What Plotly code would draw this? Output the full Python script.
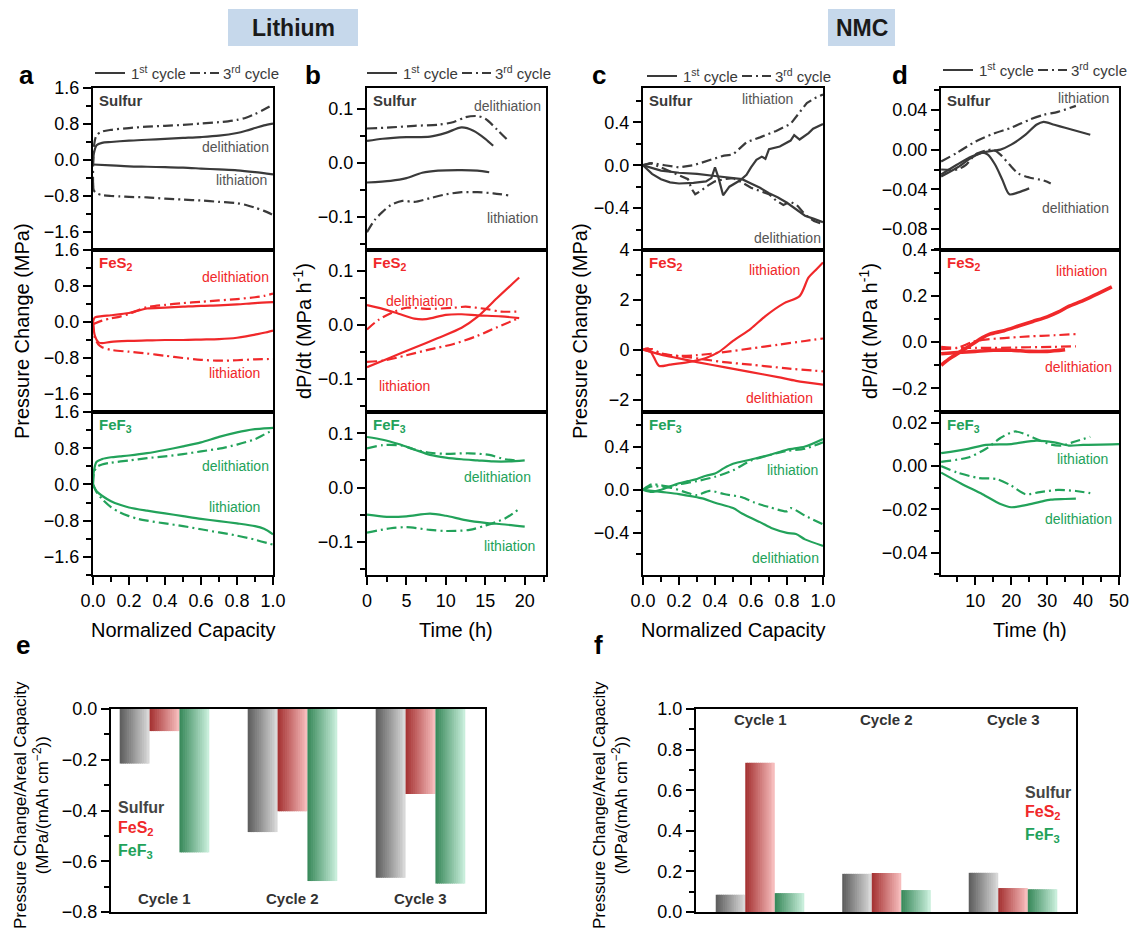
import plotly.graph_objects as go

# ---------------- DATA ----------------
# Panel a (Lithium, pressure change vs normalized capacity)
a_sul_c1_del_x = [0, 0.005, 0.02, 0.05, 0.1, 0.2, 0.3, 0.4, 0.5, 0.6, 0.7, 0.8, 0.85, 0.9, 0.95, 1.0]
a_sul_c1_del_y = [-0.08, 0.15, 0.33, 0.38, 0.40, 0.43, 0.45, 0.47, 0.49, 0.51, 0.54, 0.60, 0.65, 0.71, 0.77, 0.81]
a_sul_c3_del_x = [0, 0.005, 0.02, 0.05, 0.1, 0.2, 0.3, 0.4, 0.5, 0.6, 0.7, 0.75, 0.8, 0.85, 0.9, 0.95, 1.0]
a_sul_c3_del_y = [-0.6, 0.3, 0.55, 0.63, 0.67, 0.71, 0.74, 0.76, 0.78, 0.81, 0.84, 0.86, 0.89, 0.94, 1.02, 1.12, 1.23]
a_sul_c1_lit_x = [0, 0.1, 0.2, 0.3, 0.4, 0.5, 0.6, 0.7, 0.8, 0.9, 1.0]
a_sul_c1_lit_y = [-0.10, -0.12, -0.14, -0.15, -0.16, -0.17, -0.19, -0.21, -0.23, -0.27, -0.32]
a_sul_c3_lit_x = [0, 0.005, 0.02, 0.05, 0.1, 0.15, 0.2, 0.3, 0.4, 0.5, 0.6, 0.7, 0.8, 0.85, 0.9, 0.95, 1.0]
a_sul_c3_lit_y = [-0.5, -0.68, -0.74, -0.78, -0.8, -0.81, -0.82, -0.83, -0.86, -0.88, -0.9, -0.93, -0.96, -1.0, -1.06, -1.13, -1.22]

a_fes_c1_del_x = [0, 0.01, 0.05, 0.1, 0.2, 0.25, 0.3, 0.4, 0.5, 0.6, 0.7, 0.8, 0.9, 1.0]
a_fes_c1_del_y = [0.0, 0.10, 0.13, 0.15, 0.20, 0.25, 0.30, 0.32, 0.34, 0.36, 0.37, 0.39, 0.42, 0.44]
a_fes_c3_del_x = [0, 0.05, 0.1, 0.15, 0.2, 0.25, 0.3, 0.4, 0.5, 0.6, 0.7, 0.8, 0.9, 0.95, 1.0]
a_fes_c3_del_y = [-0.05, 0.03, 0.08, 0.12, 0.18, 0.26, 0.33, 0.38, 0.42, 0.45, 0.48, 0.51, 0.55, 0.58, 0.63]
a_fes_c1_lit_x = [0, 0.01, 0.03, 0.05, 0.1, 0.2, 0.3, 0.4, 0.5, 0.6, 0.7, 0.8, 0.85, 0.9, 0.95, 1.0]
a_fes_c1_lit_y = [0.0, -0.3, -0.45, -0.47, -0.44, -0.42, -0.41, -0.40, -0.40, -0.39, -0.38, -0.35, -0.32, -0.28, -0.24, -0.19]
a_fes_c3_lit_x = [0, 0.01, 0.03, 0.05, 0.1, 0.2, 0.3, 0.4, 0.5, 0.6, 0.7, 0.8, 0.9, 1.0]
a_fes_c3_lit_y = [0.0, -0.35, -0.5, -0.56, -0.62, -0.66, -0.7, -0.75, -0.8, -0.84, -0.86, -0.85, -0.83, -0.82]

a_fef_c1_del_x = [0, 0.005, 0.02, 0.05, 0.1, 0.15, 0.2, 0.3, 0.4, 0.5, 0.6, 0.7, 0.8, 0.85, 0.9, 0.95, 1.0]
a_fef_c1_del_y = [0.0, 0.3, 0.5, 0.56, 0.6, 0.62, 0.64, 0.69, 0.76, 0.84, 0.93, 1.05, 1.15, 1.19, 1.22, 1.24, 1.25]
a_fef_c3_del_x = [0, 0.005, 0.02, 0.05, 0.1, 0.2, 0.3, 0.4, 0.5, 0.6, 0.7, 0.8, 0.9, 0.95, 1.0]
a_fef_c3_del_y = [0.0, 0.25, 0.38, 0.44, 0.48, 0.53, 0.58, 0.62, 0.67, 0.73, 0.79, 0.88, 1.0, 1.1, 1.2]
a_fef_c1_lit_x = [0, 0.02, 0.05, 0.1, 0.15, 0.2, 0.3, 0.4, 0.5, 0.6, 0.7, 0.8, 0.9, 0.95, 1.0]
a_fef_c1_lit_y = [0.0, -0.15, -0.25, -0.37, -0.45, -0.51, -0.58, -0.64, -0.7, -0.76, -0.81, -0.86, -0.92, -0.98, -1.1]
a_fef_c3_lit_x = [0, 0.02, 0.05, 0.1, 0.15, 0.2, 0.25, 0.3, 0.4, 0.5, 0.6, 0.7, 0.8, 0.9, 1.0]
a_fef_c3_lit_y = [0.0, -0.17, -0.32, -0.5, -0.62, -0.7, -0.76, -0.8, -0.86, -0.92, -0.99, -1.06, -1.13, -1.22, -1.33]

# Panel b (Lithium, dP/dt vs time)
b_sul_c1_del_x = [0, 2, 5, 8, 10, 12, 13.5, 15, 16]
b_sul_c1_del_y = [0.041, 0.045, 0.048, 0.049, 0.056, 0.066, 0.06, 0.045, 0.032]
b_sul_c3_del_x = [0, 3, 6, 9, 11, 12.5, 14, 15, 16.5, 18]
b_sul_c3_del_y = [0.064, 0.066, 0.069, 0.071, 0.076, 0.085, 0.087, 0.082, 0.062, 0.04]
b_sul_c1_lit_x = [0, 3, 5, 7, 9, 12, 14, 15.5]
b_sul_c1_lit_y = [-0.036, -0.033, -0.028, -0.018, -0.014, -0.013, -0.014, -0.017]
b_sul_c3_lit_x = [0, 1, 2, 3, 4.5, 6, 8, 10, 12, 14, 16, 18]
b_sul_c3_lit_y = [-0.128, -0.105, -0.09, -0.078, -0.07, -0.072, -0.065, -0.058, -0.054, -0.054, -0.056, -0.06]

b_fes_c1_lit_x = [0, 3, 6, 9, 12, 14, 16.5, 19.3]
b_fes_c1_lit_y = [-0.078, -0.06, -0.042, -0.024, -0.005, 0.015, 0.05, 0.088]
b_fes_c3_lit_x = [0, 2, 5, 8, 11, 14, 16.5, 19.3]
b_fes_c3_lit_y = [-0.068, -0.066, -0.056, -0.045, -0.035, -0.02, -0.004, 0.013]
b_fes_c1_del_x = [0, 2, 4, 6, 7.5, 10, 12, 14, 17, 19.3]
b_fes_c1_del_y = [0.037, 0.03, 0.021, 0.012, 0.011, 0.019, 0.02, 0.018, 0.016, 0.013]
b_fes_c3_del_x = [0, 1.5, 3.5, 5, 8, 11, 12.5, 15, 17, 19.3]
b_fes_c3_del_y = [-0.008, 0.01, 0.025, 0.032, 0.03, 0.032, 0.034, 0.03, 0.025, 0.025]

b_fef_c1_del_x = [0, 2, 4, 6, 8, 10, 12, 14, 16, 18, 20]
b_fef_c1_del_y = [0.093, 0.088, 0.08, 0.07, 0.06, 0.055, 0.052, 0.05, 0.048, 0.048, 0.05]
b_fef_c3_del_x = [0, 2, 4.5, 6, 8, 10, 13, 15.5, 17.5, 19]
b_fef_c3_del_y = [0.072, 0.078, 0.077, 0.07, 0.064, 0.062, 0.063, 0.06, 0.052, 0.05]
b_fef_c1_lit_x = [0, 2.5, 5, 8, 10, 12.5, 15, 17.5, 20]
b_fef_c1_lit_y = [-0.05, -0.054, -0.053, -0.048, -0.052, -0.06, -0.065, -0.068, -0.072]
b_fef_c3_lit_x = [0, 3, 5, 8, 10, 13, 15, 17.5, 19.5]
b_fef_c3_lit_y = [-0.083, -0.075, -0.073, -0.078, -0.08, -0.078, -0.07, -0.057, -0.037]

# Panel c (NMC, pressure change vs normalized capacity)
c_sul_c1_lit_x = [0, 0.05, 0.1, 0.15, 0.2, 0.28, 0.35, 0.38, 0.40, 0.42, 0.445, 0.48, 0.54, 0.575, 0.6, 0.63, 0.66, 0.68, 0.70, 0.76, 0.82, 0.84, 0.87, 0.92, 0.945, 1.0]
c_sul_c1_lit_y = [0, -0.08, -0.13, -0.16, -0.17, -0.165, -0.15, -0.12, -0.02, -0.12, -0.28, -0.2, -0.14, -0.09, -0.02, 0.05, 0.08, 0.06, 0.15, 0.175, 0.23, 0.28, 0.24, 0.3, 0.34, 0.385]
c_sul_c3_lit_x = [0, 0.05, 0.12, 0.2, 0.28, 0.38, 0.45, 0.5, 0.575, 0.65, 0.74, 0.82, 0.87, 0.91, 0.96, 1.0]
c_sul_c3_lit_y = [0, 0.02, 0.0, -0.02, 0.0, 0.05, 0.09, 0.1, 0.215, 0.26, 0.32, 0.385, 0.49, 0.58, 0.63, 0.66]
c_sul_c1_del_x = [0, 0.1, 0.2, 0.3, 0.4, 0.5, 0.55, 0.6, 0.65, 0.7, 0.75, 0.8, 0.85, 0.9, 0.95, 1.0]
c_sul_c1_del_y = [0, -0.05, -0.07, -0.08, -0.1, -0.12, -0.13, -0.17, -0.21, -0.26, -0.3, -0.35, -0.41, -0.47, -0.5, -0.53]
c_sul_c3_del_x = [0, 0.04, 0.1, 0.2, 0.25, 0.27, 0.29, 0.32, 0.36, 0.4, 0.45, 0.5, 0.55, 0.6, 0.65, 0.7, 0.74, 0.78, 0.82, 0.86, 0.9, 0.95, 1.0]
c_sul_c3_del_y = [0, 0.02, -0.02, -0.09, -0.13, -0.22, -0.27, -0.24, -0.19, -0.15, -0.13, -0.12, -0.16, -0.21, -0.24, -0.27, -0.33, -0.37, -0.34, -0.38, -0.46, -0.52, -0.55]

c_fes_c1_lit_x = [0, 0.03, 0.06, 0.09, 0.15, 0.25, 0.35, 0.42, 0.5, 0.6, 0.68, 0.78, 0.87, 0.92, 0.96, 1.0]
c_fes_c1_lit_y = [0, 0.05, -0.3, -0.65, -0.6, -0.5, -0.33, -0.1, 0.35, 0.85, 1.35, 1.85, 2.15, 2.9, 3.2, 3.5]
c_fes_c3_lit_x = [0, 0.05, 0.1, 0.2, 0.3, 0.45, 0.6, 0.75, 0.9, 1.0]
c_fes_c3_lit_y = [0, 0.02, -0.15, -0.25, -0.22, -0.1, 0.05, 0.2, 0.35, 0.45]
c_fes_c1_del_x = [0, 0.05, 0.1, 0.2, 0.3, 0.45, 0.6, 0.75, 0.85, 1.0]
c_fes_c1_del_y = [0, -0.1, -0.2, -0.35, -0.5, -0.7, -0.9, -1.1, -1.25, -1.4]
c_fes_c3_del_x = [0, 0.05, 0.12, 0.25, 0.35, 0.45, 0.6, 0.8, 1.0]
c_fes_c3_del_y = [0, -0.1, -0.2, -0.3, -0.4, -0.5, -0.6, -0.75, -0.87]

c_fef_c1_lit_x = [0, 0.05, 0.1, 0.15, 0.2, 0.25, 0.3, 0.35, 0.4, 0.45, 0.5, 0.6, 0.7, 0.8, 0.9, 1.0]
c_fef_c1_lit_y = [0, -0.02, 0.0, 0.03, 0.06, 0.08, 0.1, 0.13, 0.15, 0.2, 0.24, 0.28, 0.32, 0.37, 0.4, 0.47]
c_fef_c3_lit_x = [0, 0.05, 0.1, 0.15, 0.2, 0.3, 0.4, 0.5, 0.6, 0.7, 0.8, 0.9, 1.0]
c_fef_c3_lit_y = [0, 0.05, 0.04, 0.03, 0.05, 0.08, 0.12, 0.18, 0.27, 0.32, 0.36, 0.38, 0.44]
c_fef_c1_del_x = [0, 0.1, 0.2, 0.3, 0.33, 0.4, 0.5, 0.55, 0.65, 0.72, 0.8, 0.85, 0.9, 1.0]
c_fef_c1_del_y = [0, -0.02, -0.04, -0.07, -0.08, -0.12, -0.17, -0.22, -0.3, -0.36, -0.4, -0.41, -0.46, -0.52]
c_fef_c3_del_x = [0, 0.05, 0.15, 0.25, 0.3, 0.37, 0.45, 0.55, 0.62, 0.7, 0.8, 0.82, 0.9, 1.0]
c_fef_c3_del_y = [0, 0.03, 0.02, -0.03, -0.05, -0.01, -0.04, -0.07, -0.12, -0.16, -0.2, -0.17, -0.24, -0.32]

# Panel d (NMC, dP/dt vs time)
d_sul_c1_lit_x = [0.5, 5, 9, 12, 15, 17, 20, 24, 27, 29, 32, 35, 39, 42]
d_sul_c1_lit_y = [-0.025, -0.015, -0.007, -0.003, -0.001, 0.0, 0.005, 0.015, 0.025, 0.028, 0.025, 0.022, 0.018, 0.015]
d_sul_c3_lit_x = [0.5, 5, 10, 15, 20, 25, 29, 33, 38]
d_sul_c3_lit_y = [-0.012, -0.003, 0.008, 0.016, 0.022, 0.03, 0.035, 0.038, 0.044]
d_sul_c1_del_x = [0.5, 5, 9, 12, 13.5, 15.5, 17.5, 19.5, 22, 25]
d_sul_c1_del_y = [-0.027, -0.018, -0.008, -0.003, -0.005, -0.015, -0.03, -0.045, -0.043, -0.039]
d_sul_c3_del_x = [0.5, 5, 7.5, 10, 13, 15, 17, 19.5, 22, 25, 29, 31]
d_sul_c3_del_y = [-0.02, -0.02, -0.015, -0.005, -0.001, 0.0, -0.005, -0.015, -0.024, -0.028, -0.031, -0.034]

d_fes_c1_lit_x = [0.5, 3, 6, 9, 12, 14, 18, 22, 26, 30, 33, 36, 40, 44, 48]
d_fes_c1_lit_y = [-0.1, -0.07, -0.04, -0.01, 0.02, 0.035, 0.05, 0.07, 0.09, 0.11, 0.13, 0.155, 0.18, 0.21, 0.24]
d_fes_c3_lit_x = [0.5, 5, 9, 12, 18, 25, 32, 38]
d_fes_c3_lit_y = [-0.03, -0.025, 0.0, 0.01, 0.018, 0.025, 0.03, 0.035]
d_fes_c1_del_x = [0.5, 5, 10, 15, 20, 25, 30, 35]
d_fes_c1_del_y = [-0.05, -0.045, -0.04, -0.035, -0.035, -0.04, -0.04, -0.033]
d_fes_c3_del_x = [0.5, 5, 10, 15, 25, 32, 38]
d_fes_c3_del_y = [-0.02, -0.025, -0.025, -0.025, -0.022, -0.02, -0.018]

d_fef_c1_lit_x = [0.5, 8, 13, 20, 27, 32, 36, 40, 50]
d_fef_c1_lit_y = [0.006, 0.008, 0.0098, 0.0102, 0.0118, 0.011, 0.0095, 0.0098, 0.0102]
d_fef_c3_lit_x = [0.5, 8, 13, 17, 21, 25, 27, 31, 34, 38, 42]
d_fef_c3_lit_y = [0.002, 0.004, 0.008, 0.013, 0.016, 0.014, 0.0125, 0.01, 0.0095, 0.0115, 0.0135]
d_fef_c1_del_x = [0.5, 6, 12, 17, 20, 24, 28, 31, 35, 38]
d_fef_c1_del_y = [-0.003, -0.008, -0.013, -0.0175, -0.019, -0.018, -0.0165, -0.0155, -0.0152, -0.015]
d_fef_c3_del_x = [0.5, 5, 11, 16, 20, 24, 28, 33, 38, 42]
d_fef_c3_del_y = [0.0, -0.003, -0.0055, -0.006, -0.009, -0.013, -0.012, -0.011, -0.0115, -0.0125]

# Panels e and f (bars)
cycles = ["Cycle 1", "Cycle 2", "Cycle 3"]
materials = ["Sulfur", "FeS<sub>2</sub>", "FeF<sub>3</sub>"]
e_sulfur = [-0.215, -0.485, -0.665]
e_fes2 = [-0.087, -0.403, -0.335]
e_fef3 = [-0.565, -0.678, -0.688]
f_sulfur = [0.085, 0.188, 0.193]
f_fes2 = [0.735, 0.192, 0.118]
f_fef3 = [0.093, 0.108, 0.112]

# ---------------- STYLE / LAYOUT ----------------
W, H = 1131, 937
FONT = "Liberation Sans, Arial, sans-serif"
GRAY = "#3a3a3a"
LGRAY = "#555555"
RED = "#f0282a"
GREEN = "#22a25a"
DASHDOT = "10px,4px,2px,4px"


def dx(a, b):
    return [a / W, b / W]


def dy(top, bot):
    return [1 - bot / H, 1 - top / H]


def px(x):
    return x / W


def py(y):
    return 1 - y / H


fig = go.Figure()
layout = dict(
    width=W, height=H, margin=dict(l=0, r=0, t=0, b=0, autoexpand=False),
    paper_bgcolor="white", plot_bgcolor="white",
    showlegend=False, hovermode=False,
    font=dict(family=FONT, color="black"),
)
annotations = []
shapes = []

cols = {"a": (93, 273), "b": (367, 546), "c": (643, 823), "d": (941, 1119)}
rows = [(88, 250), (250, 412), (412, 575)]
xspec = {
    "a": dict(range=[0, 1], dtick=0.2, minor=0.1, fmt=".1f"),
    "b": dict(range=[0, 22.7], dtick=5, minor=2.5, fmt="d"),
    "c": dict(range=[0, 1], dtick=0.2, minor=0.1, fmt=".1f"),
    "d": dict(range=[0.46, 50], dtick=10, minor=5, fmt="d"),
}
yspec = {
    "a": [dict(range=[-2.0, 1.6], dtick=0.8, minor=0.4, fmt=".1f")] * 3,
    "b": [dict(range=[-0.161, 0.139], dtick=0.1, minor=0.05, fmt=".1f")] * 3,
    "c": [dict(range=[-0.79, 0.72], dtick=0.4, minor=0.2, fmt=".1f"),
          dict(range=[-2.5, 4.0], dtick=2, minor=1, fmt="d"),
          dict(range=[-0.79, 0.72], dtick=0.4, minor=0.2, fmt=".1f")],
    "d": [dict(range=[-0.101, 0.062], dtick=0.04, minor=0.02, fmt=".2f"),
          dict(range=[-0.303, 0.4], dtick=0.2, minor=0.1, fmt=".1f"),
          dict(range=[-0.0503, 0.025], dtick=0.02, minor=0.01, fmt=".2f")],
}

curves = {
    "a": [
        [(a_sul_c1_del_x, a_sul_c1_del_y, 0), (a_sul_c3_del_x, a_sul_c3_del_y, 1),
         (a_sul_c1_lit_x, a_sul_c1_lit_y, 0), (a_sul_c3_lit_x, a_sul_c3_lit_y, 1)],
        [(a_fes_c1_del_x, a_fes_c1_del_y, 0), (a_fes_c3_del_x, a_fes_c3_del_y, 1),
         (a_fes_c1_lit_x, a_fes_c1_lit_y, 0), (a_fes_c3_lit_x, a_fes_c3_lit_y, 1)],
        [(a_fef_c1_del_x, a_fef_c1_del_y, 0), (a_fef_c3_del_x, a_fef_c3_del_y, 1),
         (a_fef_c1_lit_x, a_fef_c1_lit_y, 0), (a_fef_c3_lit_x, a_fef_c3_lit_y, 1)],
    ],
    "b": [
        [(b_sul_c1_del_x, b_sul_c1_del_y, 0), (b_sul_c3_del_x, b_sul_c3_del_y, 1),
         (b_sul_c1_lit_x, b_sul_c1_lit_y, 0), (b_sul_c3_lit_x, b_sul_c3_lit_y, 1)],
        [(b_fes_c1_del_x, b_fes_c1_del_y, 0), (b_fes_c3_del_x, b_fes_c3_del_y, 1),
         (b_fes_c1_lit_x, b_fes_c1_lit_y, 0), (b_fes_c3_lit_x, b_fes_c3_lit_y, 1)],
        [(b_fef_c1_del_x, b_fef_c1_del_y, 0), (b_fef_c3_del_x, b_fef_c3_del_y, 1),
         (b_fef_c1_lit_x, b_fef_c1_lit_y, 0), (b_fef_c3_lit_x, b_fef_c3_lit_y, 1)],
    ],
    "c": [
        [(c_sul_c1_lit_x, c_sul_c1_lit_y, 0), (c_sul_c3_lit_x, c_sul_c3_lit_y, 1),
         (c_sul_c1_del_x, c_sul_c1_del_y, 0), (c_sul_c3_del_x, c_sul_c3_del_y, 1)],
        [(c_fes_c1_lit_x, c_fes_c1_lit_y, 0), (c_fes_c3_lit_x, c_fes_c3_lit_y, 1),
         (c_fes_c1_del_x, c_fes_c1_del_y, 0), (c_fes_c3_del_x, c_fes_c3_del_y, 1)],
        [(c_fef_c1_lit_x, c_fef_c1_lit_y, 0), (c_fef_c3_lit_x, c_fef_c3_lit_y, 1),
         (c_fef_c1_del_x, c_fef_c1_del_y, 0), (c_fef_c3_del_x, c_fef_c3_del_y, 1)],
    ],
    "d": [
        [(d_sul_c1_lit_x, d_sul_c1_lit_y, 0), (d_sul_c3_lit_x, d_sul_c3_lit_y, 1),
         (d_sul_c1_del_x, d_sul_c1_del_y, 0), (d_sul_c3_del_x, d_sul_c3_del_y, 1)],
        [(d_fes_c1_lit_x, d_fes_c1_lit_y, 0), (d_fes_c3_lit_x, d_fes_c3_lit_y, 1),
         (d_fes_c1_del_x, d_fes_c1_del_y, 0), (d_fes_c3_del_x, d_fes_c3_del_y, 1)],
        [(d_fef_c1_lit_x, d_fef_c1_lit_y, 0), (d_fef_c3_lit_x, d_fef_c3_lit_y, 1),
         (d_fef_c1_del_x, d_fef_c1_del_y, 0), (d_fef_c3_del_x, d_fef_c3_del_y, 1)],
    ],
}

row_colors = [GRAY, RED, GREEN]
row_names = ["Sulfur", "FeS<sub>2</sub>", "FeF<sub>3</sub>"]
label_colors = [LGRAY, RED, GREEN]

# in-panel labels: (text, x, y, xanchor)
panel_labels = {
    "a": [[("delithiation", 0.99, 0.30, "right"), ("lithiation", 0.98, -0.44, "right")],
          [("delithiation", 0.99, 1.0, "right"), ("lithiation", 0.94, -1.13, "right")],
          [("delithiation", 0.99, 0.40, "right"), ("lithiation", 0.94, -0.49, "right")]],
    "b": [[("delithiation", 22.3, 0.105, "right"), ("lithiation", 18.4, -0.102, "center")],
          [("delithiation", 6.6, 0.045, "center"), ("lithiation", 4.7, -0.113, "center")],
          [("delithiation", 16.6, 0.02, "center"), ("lithiation", 18.1, -0.107, "center")]],
    "c": [[("lithiation", 0.69, 0.62, "center"), ("delithiation", 0.80, -0.68, "center")],
          [("lithiation", 0.73, 3.2, "center"), ("delithiation", 0.76, -1.93, "center")],
          [("lithiation", 0.83, 0.186, "center"), ("delithiation", 0.79, -0.63, "center")]],
    "d": [[("lithiation", 40.2, 0.052, "center"), ("delithiation", 38.0, -0.059, "center")],
          [("lithiation", 39.6, 0.31, "center"), ("delithiation", 38.8, -0.108, "center")],
          [("lithiation", 39.9, 0.0032, "center"), ("delithiation", 38.8, -0.0245, "center")]],
}

base_axis = dict(showline=True, linecolor="black", linewidth=2, mirror=True, automargin=False,
                 showgrid=False, zeroline=False, tickcolor="black",
                 tickfont=dict(family=FONT, size=18, color="black"))

k = 0
for col in ["a", "b", "c", "d"]:
    x0, x1 = cols[col]
    for r, (top, bot) in enumerate(rows):
        k += 1
        xs = xspec[col]
        ys = yspec[col][r]
        xa = dict(base_axis, domain=dx(x0, x1), range=xs["range"], anchor="y%d" % k)
        if r == 2:
            xa.update(ticks="outside", ticklen=8, tickwidth=1.5, dtick=xs["dtick"], tick0=0,
                      tickformat=xs["fmt"], showticklabels=True,
                      minor=dict(dtick=xs["minor"], ticks="outside", ticklen=5, tickwidth=1.5,
                                 tickcolor="black", showgrid=False))
        else:
            xa.update(ticks="", showticklabels=False)
        ya = dict(base_axis, domain=dy(top, bot), range=ys["range"], anchor="x%d" % k,
                  ticks="outside", ticklen=8, tickwidth=1.5, dtick=ys["dtick"], tick0=0,
                  tickformat=ys["fmt"],
                  minor=dict(dtick=ys["minor"], ticks="outside", ticklen=5, tickwidth=1.5,
                             tickcolor="black", showgrid=False))
        layout["xaxis%d" % k] = xa
        layout["yaxis%d" % k] = ya

        color = row_colors[r]
        for (cx, cy, cyc) in curves[col][r]:
            width = 2.2
            if col == "d" and r == 1 and cyc == 0:
                width = 3.6
            jag = (col == "c" and r == 0)
            fig.add_trace(go.Scatter(
                x=cx, y=cy, mode="lines", xaxis="x%d" % k, yaxis="y%d" % k,
                line=dict(color=color, width=width, dash=(DASHDOT if cyc == 1 else "solid"),
                          shape=("linear" if jag else "spline"), smoothing=0.8),
                hoverinfo="skip"))
        # material label
        annotations.append(dict(text="<b>%s</b>" % row_names[r], x=px(x0 + 4), y=py(top + 2),
                                xref="paper", yref="paper", xanchor="left", yanchor="top",
                                showarrow=False, font=dict(family=FONT, size=15, color=color)))
        for (t, lx, ly, anc) in panel_labels[col][r]:
            annotations.append(dict(text=t, x=lx, y=ly, xref="x%d" % k, yref="y%d" % k,
                                    xanchor=anc, yanchor="middle", showarrow=False,
                                    font=dict(family=FONT, size=14, color=label_colors[r])))

# axis titles for line panels
for (txt, xc) in [("Pressure Change (MPa)", 22), ("dP/dt (MPa h<sup>-1</sup>)", 302),
                  ("Pressure Change (MPa)", 580), ("dP/dt (MPa h<sup>-1</sup>)", 868)]:
    annotations.append(dict(text=txt, x=px(xc), y=py(331), xref="paper", yref="paper",
                            textangle=-90, showarrow=False, xanchor="center", yanchor="middle",
                            font=dict(family=FONT, size=20, color="black")))
for (txt, xc) in [("Normalized Capacity", 183), ("Time (h)", 456),
                  ("Normalized Capacity", 733), ("Time (h)", 1030)]:
    annotations.append(dict(text=txt, x=px(xc), y=py(630), xref="paper", yref="paper",
                            showarrow=False, xanchor="center", yanchor="middle",
                            font=dict(family=FONT, size=20, color="black")))

# panel letters
for (txt, xc, yc) in [("a", 26, 75), ("b", 313, 75), ("c", 599, 75), ("d", 900, 75),
                      ("e", 23, 645), ("f", 598, 645)]:
    annotations.append(dict(text="<b>%s</b>" % txt, x=px(xc), y=py(yc), xref="paper", yref="paper",
                            showarrow=False, xanchor="center", yanchor="middle",
                            font=dict(family=FONT, size=26, color="black")))

# cycle legends at top of each column
legend_pos = {"a": (95, 73), "b": (367, 73), "c": (647, 76), "d": (943, 70)}
for col, (lx, ly) in legend_pos.items():
    shapes.append(dict(type="line", xref="paper", yref="paper", x0=px(lx), x1=px(lx + 30),
                       y0=py(ly), y1=py(ly), line=dict(color=GRAY, width=2)))
    annotations.append(dict(text="1<sup>st</sup> cycle", x=px(lx + 34), y=py(ly), xref="paper",
                            yref="paper", xanchor="left", yanchor="middle", showarrow=False,
                            font=dict(family=FONT, size=15, color=GRAY)))
    shapes.append(dict(type="line", xref="paper", yref="paper", x0=px(lx + 95), x1=px(lx + 124),
                       y0=py(ly), y1=py(ly), line=dict(color=GRAY, width=2, dash=DASHDOT)))
    annotations.append(dict(text="3<sup>rd</sup> cycle", x=px(lx + 126), y=py(ly), xref="paper",
                            yref="paper", xanchor="left", yanchor="middle", showarrow=False,
                            font=dict(family=FONT, size=15, color=GRAY)))

# headers
for (txt, bx0, bx1) in [("Lithium", 228, 358), ("NMC", 828, 895)]:
    shapes.append(dict(type="rect", xref="paper", yref="paper", x0=px(bx0), x1=px(bx1),
                       y0=py(46), y1=py(9), fillcolor="#c6d8eb", line=dict(width=0), layer="below"))
    annotations.append(dict(text="<b>%s</b>" % txt, x=px((bx0 + bx1) / 2), y=py(27.5),
                            xref="paper", yref="paper", showarrow=False, xanchor="center",
                            yanchor="middle", font=dict(family=FONT, size=23, color="#1a1a1a")))


# ---------------- BAR PANELS ----------------
def hex2rgb(h):
    h = h.lstrip("#")
    return tuple(int(h[i:i + 2], 16) for i in (0, 2, 4))


def lerp(c1, c2, t):
    a, b = hex2rgb(c1), hex2rgb(c2)
    return "rgb(%d,%d,%d)" % tuple(round(a[i] + (b[i] - a[i]) * t) for i in range(3))


grad = [("#5f5f5f", "#d8d8d8"), ("#a63434", "#f6bcbc"), ("#3a8a5c", "#c9eedb")]
legend_cols = ["#444444", RED, GREEN]
cycle_pos = list(range(len(cycles)))
N = 16
GW = 0.7
BW = GW / 3

bar_panels = [
    dict(vals=[e_sulfur, e_fes2, e_fef3], xd=(111, 485), yd=(709, 912), xr=[-0.418, 2.504],
         yr=[-0.8, 0], cyc_y=-0.745, leg_x=-0.38, leg_y=[-0.39, -0.47, -0.56], title_x=31),
    dict(vals=[f_sulfur, f_fes2, f_fef3], xd=(696, 1076), yd=(709, 912), xr=[-0.506, 2.498],
         yr=[0, 1.0], cyc_y=0.95, leg_x=2.08, leg_y=[0.59, 0.49, 0.375], title_x=610),
]
for bp in bar_panels:
    k += 1
    xa = dict(base_axis, domain=dx(*bp["xd"]), range=bp["xr"], anchor="y%d" % k,
              ticks="", showticklabels=False)
    ya = dict(base_axis, domain=dy(*bp["yd"]), range=bp["yr"], anchor="x%d" % k,
              ticks="outside", ticklen=8, tickwidth=1.5, dtick=0.2, tick0=0, tickformat=".1f",
              minor=dict(dtick=0.1, ticks="outside", ticklen=5, tickwidth=1.5,
                         tickcolor="black", showgrid=False))
    layout["xaxis%d" % k] = xa
    layout["yaxis%d" % k] = ya
    for m, vals in enumerate(bp["vals"]):
        start = -GW / 2 + m * BW
        end = start + BW
        for i in range(N):
            off = start + i * BW / N
            w = min(BW / N * 1.4, end - off)
            fig.add_trace(go.Bar(
                x=cycle_pos, y=vals, offset=off, width=w, xaxis="x%d" % k, yaxis="y%d" % k,
                marker=dict(color=lerp(grad[m][0], grad[m][1], i / (N - 1)), line=dict(width=0)),
                hoverinfo="skip"))
    for i, c in enumerate(cycles):
        annotations.append(dict(text="<b>%s</b>" % c, x=cycle_pos[i], y=bp["cyc_y"],
                                xref="x%d" % k, yref="y%d" % k, showarrow=False,
                                xanchor="center", yanchor="middle",
                                font=dict(family=FONT, size=15, color="#333333")))
    for m, name in enumerate(materials):
        annotations.append(dict(text="<b>%s</b>" % name, x=bp["leg_x"], y=bp["leg_y"][m],
                                xref="x%d" % k, yref="y%d" % k, showarrow=False,
                                xanchor="left", yanchor="middle",
                                font=dict(family=FONT, size=16, color=legend_cols[m])))
    annotations.append(dict(text="Pressure Change/Areal Capacity<br>(MPa/(mAh cm<sup>−2</sup>))",
                            x=px(bp["title_x"]), y=py(805), xref="paper", yref="paper",
                            textangle=-90, showarrow=False, xanchor="center", yanchor="middle",
                            font=dict(family=FONT, size=17, color="black")))

layout["barmode"] = "overlay"
layout["annotations"] = annotations
layout["shapes"] = shapes
fig.update_layout(**layout)
fig.write_html("out.html", config={"displayModeBar": False},
               post_script="document.body.style.margin='0px';document.body.style.overflow='hidden';")
